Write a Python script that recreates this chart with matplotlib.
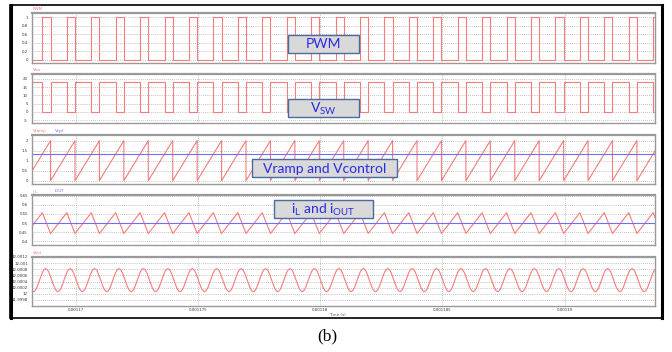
import matplotlib
matplotlib.use("Agg")
import matplotlib.pyplot as plt
import numpy as np
from matplotlib.patches import Rectangle

W, H = 672, 352

# steady-state switching data
t_first = 0.00116796      # first ramp reset visible (s)
period = 1e-6             # 1 MHz switching
n_cycles = 27
pwm_on_phase = 0.665      # PWM goes high at this fraction of a cycle
vsw_high = 18.0
vsw_low = 0.0
ramp_low = 0.0
ramp_high = 2.0
vcontrol = 1.35
il_valley = 0.443
il_peak = 0.557
iout = 0.5
# Vout over one cycle, sampled every 1/20 of a period starting at ramp reset
vout_cycle = [12.00056, 12.000445, 12.00033, 12.000225, 12.00014,
              12.00009, 12.00007, 12.00009, 12.00014, 12.000225,
              12.00033, 12.000445, 12.00056, 12.000665, 12.00075,
              12.0008, 12.00082, 12.0008, 12.00075, 12.000665]

x_lim = (0.0011682, 0.0011937)
x_ticks = [0.00117, 0.001175, 0.00118, 0.001185, 0.00119]
x_labels = ["0.00117", "0.001175", "0.00118", "0.001185", "0.00119"]

panels = [
    # (top px, bottom px, ylim, yticks, ytick labels)
    (13, 63, (-0.08, 1.1), [0, 0.2, 0.4, 0.6, 0.8, 1],
     ["0", "0.2", "0.4", "0.6", "0.8", "1"]),
    (74, 123, (-6.8, 23.0), [-5, 0, 5, 10, 15, 20],
     ["-5", "0", "5", "10", "15", "20"]),
    (135, 184, (-0.17, 2.28), [0, 0.5, 1, 1.5, 2],
     ["0", "0.5", "1", "1.5", "2"]),
    (195, 245, (0.38, 0.654), [0.4, 0.45, 0.5, 0.55, 0.6, 0.65],
     ["0.4", "0.45", "0.5", "0.55", "0.6", "0.65"]),
    (257, 306, (11.9996, 12.0012),
     [11.9998, 12.0, 12.0002, 12.0004, 12.0006, 12.0008, 12.001, 12.0012],
     ["11.9998", "12", "12.0002", "12.0004", "12.0006", "12.0008",
      "12.001", "12.0012"]),
]

trace_names = [[("PWM", "red")], [("Vsw", "red")],
               [("Vramp", "red"), ("Vcpl", "blue")],
               [("I_L", "red"), ("IOUT", "blue")], [("Vout", "red")]]

overlays = [
    ("PWM", 288, 35, 359, 53),
    (r"V$_{\mathregular{SW}}$", 288, 99, 359, 117),
    ("Vramp and Vcontrol", 252, 159, 397, 177),
    (r"i$_{\mathregular{L}}$ and i$_{\mathregular{OUT}}$", 274, 200, 373, 218),
]

RED = "#f77b7b"
BLUE = "#6f6ff5"

starts = t_first + period * np.arange(n_cycles)


def step_wave(lo, hi):
    t, v = [], []
    for s in starts:
        on = s + pwm_on_phase * period
        t += [s, on, on, s + period]
        v += [lo, lo, hi, hi]
    return np.array(t), np.array(v)


def fx(x):
    return x / W


def fy(y):
    return 1 - y / H


fig = plt.figure(figsize=(W / 100, H / 100), dpi=100)
fig.patch.set_facecolor("white")

axes = []
for top, bot, ylim, yt, ylab in panels:
    ax = fig.add_axes([fx(32), fy(bot), fx(655) - fx(32), (bot - top) / H])
    ax.set_xlim(*x_lim)
    ax.set_ylim(*ylim)
    ax.set_yticks(yt)
    ax.set_yticklabels(ylab)
    ax.set_xticks(x_ticks)
    ax.set_xticklabels(x_labels if top == 257 else [])
    ax.tick_params(length=0, labelsize=2.8, colors="#333333")
    ax.tick_params(axis="y", pad=3)
    ax.tick_params(axis="x", pad=1.5)
    ax.grid(True, ls=(0, (1, 1.5)), color="#b0b0b0", lw=0.6)
    for sp in ax.spines.values():
        sp.set_color("#999999")
        sp.set_linewidth(1.0)
    ax.spines["top"].set_linewidth(1.6)
    axes.append(ax)

# PWM
t, v = step_wave(0, 1)
axes[0].plot(t, v, color=RED, lw=0.8)
# switch node voltage (inverted PWM)
t, v = step_wave(vsw_high, vsw_low)
axes[1].plot(t, v, color=RED, lw=0.8)
# ramp and control voltage
tr, vr = [], []
for s in starts:
    tr += [s, s + period]
    vr += [ramp_low, ramp_high]
axes[2].plot(tr, vr, color=RED, lw=0.8)
axes[2].axhline(vcontrol, color=BLUE, lw=0.8)
# inductor and output current
ti, vi = [], []
for s in starts:
    ti += [s, s + pwm_on_phase * period]
    vi += [il_valley, il_peak]
axes[3].plot(ti, vi, color=RED, lw=0.8)
axes[3].axhline(iout, color=BLUE, lw=0.8)
# output voltage
nv = len(vout_cycle)
tv = (starts[:, None] + period * np.arange(nv)[None, :] / nv).ravel()
vv = np.tile(vout_cycle, n_cycles)
axes[4].plot(tv, vv, color=RED, lw=0.8)

# small trace names above each panel
for (top, *_), names in zip(panels, trace_names):
    x = 33
    for name, col in names:
        fig.text(fx(x), fy(top - 4), name, fontsize=3.0,
                 color=RED if col == "red" else BLUE, va="center")
        x += 22

fig.text(fx(337), fy(315), "Time (s)", fontsize=3.0, color="#555555",
         ha="center", va="center")

# annotation boxes
for label, x0, y0, x1, y1 in overlays:
    fig.patches.append(Rectangle((fx(x0), fy(y1)), fx(x1) - fx(x0),
                                 (y1 - y0) / H, transform=fig.transFigure,
                                 facecolor="#d9d9d9", edgecolor="#4a6aa0",
                                 lw=1.0, zorder=5))
    fig.text(fx((x0 + x1) / 2), fy((y0 + y1) / 2 + 0.5), label,
             fontsize=10, color="#2a2ae0", ha="center", va="center",
             family="Lato", zorder=6)

# outer frame of the screenshot
fig.patches.append(Rectangle((fx(10), fy(318)), fx(662) - fx(10),
                             (318 - 5) / H, transform=fig.transFigure,
                             fill=False, edgecolor="black", lw=1.2))
fig.add_artist(plt.Line2D([fx(10.5), fx(10.5)], [fy(5), fy(318)],
                          transform=fig.transFigure, color="black", lw=2.2))
fig.add_artist(plt.Line2D([fx(661.5), fx(661.5)], [fy(5), fy(318)],
                          transform=fig.transFigure, color="black", lw=2.2))

fig.text(fx(327), fy(336), "(b)", fontsize=12.5, family="Liberation Serif",
         ha="center", va="center")

fig.savefig("out.png", dpi=100)
